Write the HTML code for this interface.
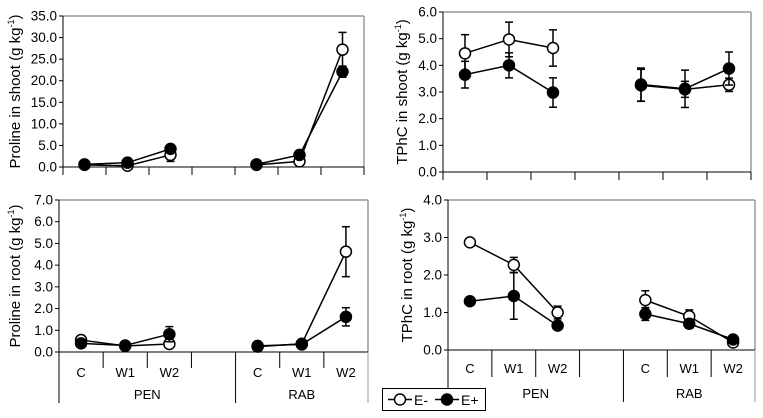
<!DOCTYPE html>
<html><head><meta charset="utf-8"><style>
html,body{margin:0;padding:0;background:#fff;}
svg{display:block;font-family:"Liberation Sans",sans-serif;}
</style></head><body>
<svg id="c" width="763" height="418"></svg>
<script>
const categories=["C","W1","W2","","C","W1","W2"];
const groups=["PEN","RAB"];
const slotIdx=[0,1,2,4,5,6];
// panel A proline shoot
const aEm=[0.5,0.3,2.8,0.5,1.3,27.2], aEmErr=[0.3,0.2,1.5,0.2,0.3,4.0];
const aEp=[0.6,1.0,4.2,0.6,2.8,22.1], aEpErr=[0.2,0.3,0.5,0.2,0.4,1.3];
const aTicks=["0.0","5.0","10.0","15.0","20.0","25.0","30.0","35.0"];
// panel B TPhC shoot
const bEm=[4.45,4.97,4.65,3.25,3.1,3.27], bEmErr=[0.7,0.65,0.68,0.6,0.3,0.25];
const bEp=[3.65,4.0,2.98,3.28,3.12,3.88], bEpErr=[0.5,0.47,0.55,0.62,0.7,0.62];
const bTicks=["0.0","1.0","2.0","3.0","4.0","5.0","6.0"];
// panel C proline root
const cEm=[0.55,0.28,0.37,0.25,0.38,4.62], cEmErr=[0.1,0.05,0.05,0.05,0.05,1.15];
const cEp=[0.4,0.3,0.82,0.28,0.35,1.62], cEpErr=[0.1,0.05,0.35,0.05,0.05,0.42];
const cTicks=["0.0","1.0","2.0","3.0","4.0","5.0","6.0","7.0"];
// panel D TPhC root
const dEm=[2.87,2.27,1.0,1.33,0.9,0.2], dEmErr=[0.04,0.2,0.17,0.25,0.17,0.05];
const dEp=[1.3,1.44,0.65,0.96,0.7,0.28], dEpErr=[0.03,0.62,0.05,0.17,0.12,0.1];
const dTicks=["0.0","1.0","2.0","3.0","4.0"];

const svg=document.getElementById('c');
const NS="http://www.w3.org/2000/svg";
function mk(tag,attrs,parent){const e=document.createElementNS(NS,tag);for(const k in attrs)e.setAttribute(k,attrs[k]);(parent||svg).appendChild(e);return e;}

function panel(p){
  const g=mk('g',{});
  
  
  const {x0,x1,y0,y1,max}=p;
  const ys=v=>y0-(v/max)*(y0-y1);
  const sw=(x1-x0)/7;
  const xs=i=>x0+(i+0.5)*sw;
  mk('line',{x1:x0,y1:y1,x2:x1,y2:y1,stroke:'#999','stroke-width':1.5},g);
  mk('line',{x1:x1,y1:y1,x2:x1,y2:y0,stroke:'#999','stroke-width':1.5},g);
  const ya=mk('line',{x1:x0,y1:y1,x2:x0,y2:y0,stroke:'#000','stroke-width':1},g);
  
  
  mk('line',{x1:x0,y1:y0,x2:x1,y2:y0,stroke:'#000','stroke-width':1},g);
  p.ticks.forEach((t,i)=>{
    const y=ys(parseFloat(t));
    mk('line',{x1:x0-4,y1:y,x2:x0,y2:y,stroke:'#000'},g);
    const tx=mk('text',{x:x0-6,y:y+4.5,'text-anchor':'end','font-size':13.5,fill:'#000'},g);
    tx.textContent=t;
    
    
  });
  const tl=mk('text',{transform:`translate(${p.tx},${(y0+y1)/2}) rotate(-90)`,'text-anchor':'middle','font-size':15,fill:'#000'},g);
  tl.innerHTML=p.title+' (g kg<tspan font-size="9" dy="-6">-1</tspan><tspan dy="6">)</tspan>';
  
  
  // category axis
  for(let i=0;i<=7;i++){
    const x=x0+i*sw;
    if(p.labels){
      const outer=(i===0||i===4||i===7);
      mk('line',{x1:x,y1:y0,x2:x,y2:outer?p.yOuter:p.yInner,stroke:i===7?'#999':'#000'},g);
    } else {
      mk('line',{x1:x,y1:y0,x2:x,y2:y0+8,stroke:'#000'},g);
    }
  }
  if(p.labels){
    categories.forEach((c,i)=>{
      if(!c)return;
      const t=mk('text',{x:xs(i),y:p.yLab,'text-anchor':'middle','font-size':13,fill:'#000'},g);
      t.textContent=c;
      
      
    });
    groups.forEach((gname,k)=>{
      const t=mk('text',{x:k===0?x0+2*sw:x0+5.5*sw,y:p.yGrp,'text-anchor':'middle','font-size':13,fill:'#000'},g);
      t.textContent=gname;
      
      
    });
  }
  const series=[[p.em,p.emErr,'#fff','e-minus'],[p.ep,p.epErr,'#000','e-plus']];
  series.forEach(([vals,errs,fill,nm])=>{
    [[0,1,2],[3,4,5]].forEach(seg=>{
      const d=seg.map((j,k)=>(k?'L':'M')+xs(slotIdx[j])+','+ys(vals[j])).join(' ');
      const l=mk('path',{d:d,fill:'none',stroke:'#000','stroke-width':1.5},g);
      
      
    });
    vals.forEach((v,j)=>{
      const x=xs(slotIdx[j]);
      const a=ys(v+errs[j]),b=ys(Math.max(0,v-errs[j]));
      mk('line',{x1:x,y1:a,x2:x,y2:b,stroke:'#000','stroke-width':1.5},g);
      mk('line',{x1:x-4,y1:a,x2:x+4,y2:a,stroke:'#000','stroke-width':1.5},g);
      mk('line',{x1:x-4,y1:b,x2:x+4,y2:b,stroke:'#000','stroke-width':1.5},g);
    });
    vals.forEach((v,j)=>{
      const c=mk('circle',{cx:xs(slotIdx[j]),cy:ys(v),r:5.5,fill:fill,stroke:'#000','stroke-width':1.5},g);
      
      
    });
  });
}
panel({name:'proline-shoot-panel',x0:63,x1:364,y0:167,y1:16,max:35,ticks:aTicks,title:'Proline in shoot ',tx:20,em:aEm,emErr:aEmErr,ep:aEp,epErr:aEpErr});
panel({name:'tphc-shoot-panel',x0:443,x1:751,y0:172,y1:12,max:6,ticks:bTicks,title:'TPhC in shoot',tx:407,em:bEm,emErr:bEmErr,ep:bEp,epErr:bEpErr});
panel({name:'proline-root-panel',x0:59,x1:368,y0:352,y1:200,max:7,ticks:cTicks,title:'Proline in root',tx:20,em:cEm,emErr:cEmErr,ep:cEp,epErr:cEpErr,labels:true,yInner:368,yOuter:403,yLab:377,yGrp:399});
panel({name:'tphc-root-panel',x0:448,x1:755,y0:350,y1:200,max:4,ticks:dTicks,title:'TPhC in root',tx:412,em:dEm,emErr:dEmErr,ep:dEp,epErr:dEpErr,labels:true,yInner:377,yOuter:402,yLab:373,yGrp:398});

// legend
const lg=mk('g',{});


mk('rect',{x:382.5,y:388.5,width:103,height:22,fill:'#fff',stroke:'#000'},lg);
[[388,'#fff','E-'],[435,'#000','E+']].forEach(([x,f,t])=>{
  const e=mk('g',{},lg);
  
  
  mk('line',{x1:x,y1:399.5,x2:x+24,y2:399.5,stroke:'#000','stroke-width':1.5},e);
  mk('circle',{cx:x+12,cy:399.5,r:5.5,fill:f,stroke:'#000','stroke-width':1.5},e);
  const tx=mk('text',{x:x+26,y:405,'font-size':14,fill:'#000'},e);
  tx.textContent=t;
});
</script>
</body></html>
